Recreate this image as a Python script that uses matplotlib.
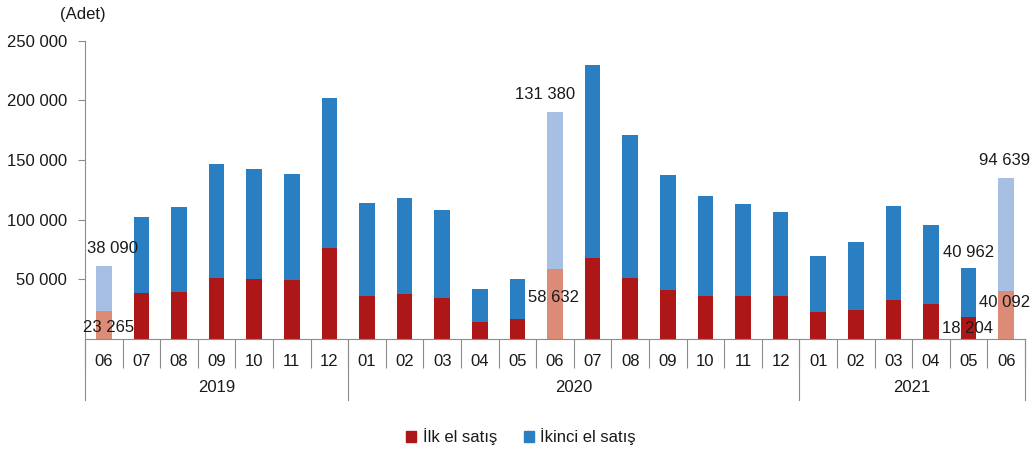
import matplotlib
matplotlib.use('Agg')
import matplotlib.pyplot as plt
from matplotlib.patches import Patch
import numpy as np

plt.rcParams['font.family'] = ['Liberation Sans', 'DejaVu Sans']

# aylar ve yıllar
months = ['06', '07', '08', '09', '10', '11', '12',
          '01', '02', '03', '04', '05', '06', '07', '08', '09', '10', '11', '12',
          '01', '02', '03', '04', '05', '06']
years = ['2019', '2020', '2021']
year_sizes = [7, 12, 6]

# satış adetleri
ilk_el = [23265, 38550, 39650, 51400, 50300, 49200, 76000,
          36300, 37400, 34100, 14250, 16500, 58632, 67600, 51400, 41100, 36300, 36300, 36300,
          22400, 24600, 32900, 29300, 18204, 40092]
ikinci_el = [38090, 63650, 70750, 95000, 92400, 89100, 125700,
             77700, 81000, 74000, 27950, 33800, 131380, 162000, 119300, 96100, 83300, 76600, 69900,
             47400, 57000, 78600, 66000, 40962, 94639]

highlight = [0, 12, 24]
# etiketli çubuklar: (indeks, mavi etiket kaydırma, kırmızı etiket kaydırma) piksel
labelled = [(0, (9, 10), (5, -16)),
            (12, (-10, 10), (-2, -28)),
            (23, (0, 8), (-1, -11)),
            (24, (-2, 10), (-2, -11))]

red = '#AD1717'
blue = '#2A7FC3'
red_light = '#DB8B76'
blue_light = '#A6BFE3'
axis_gray = '#8C8C8C'
text_col = '#1A1A1A'

fig = plt.figure(figsize=(10.32, 4.68), dpi=100)
ax = fig.add_axes([85 / 1032, 129 / 468, 940 / 1032, 298.3 / 468])

x = np.arange(len(months))
red_cols = [red_light if i in highlight else red for i in x]
blue_cols = [blue_light if i in highlight else blue for i in x]
ax.bar(x, ilk_el, width=0.41, color=red_cols, zorder=2)
ax.bar(x, ikinci_el, width=0.41, bottom=ilk_el, color=blue_cols, zorder=2)

def fmt(v):
    return f'{v:,}'.replace(',', ' ')

for i, (bdx, bdy), (rdx, rdy) in labelled:
    total = ilk_el[i] + ikinci_el[i]
    ax.annotate(fmt(ikinci_el[i]), xy=(i, total), xytext=(bdx, bdy),
                textcoords='offset pixels', ha='center', va='bottom',
                fontsize=12, color=text_col, zorder=3)
    ax.annotate(fmt(ilk_el[i]), xy=(i, ilk_el[i]), xytext=(rdx, rdy),
                textcoords='offset pixels', ha='center', va='center',
                fontsize=12, color=text_col, zorder=3)

ax.set_xlim(-0.5, len(months) - 0.5)
ax.set_ylim(0, 250000)
ax.set_yticks(range(50000, 250001, 50000))
ax.set_yticklabels([fmt(v) for v in range(50000, 250001, 50000)])

for s in ['top', 'right']:
    ax.spines[s].set_visible(False)
for s in ['left', 'bottom']:
    ax.spines[s].set_color(axis_gray)

ax.tick_params(axis='y', length=5, pad=8, color=axis_gray, labelsize=12, labelcolor=text_col)
ax.set_xticks(x)
ax.set_xticklabels(months)
ax.set_xticks(np.arange(-0.5, len(months), 1), minor=True)
ax.tick_params(axis='x', which='major', length=0, pad=11, labelsize=12, labelcolor=text_col)
ax.tick_params(axis='x', which='minor', length=21, width=0.8, color=axis_gray)

# yıl grupları
trans = ax.get_xaxis_transform()
start = -0.5
for yr, n in zip(years, year_sizes):
    ax.plot([start, start], [0, -0.205], color=axis_gray, lw=0.8, transform=trans, clip_on=False)
    ax.text(start + n / 2, -0.162, yr, transform=trans, ha='center', va='center',
            fontsize=12, color=text_col)
    start += n
ax.plot([start, start], [0, -0.205], color=axis_gray, lw=0.8, transform=trans, clip_on=False)

fig.text(60 / 1032, 1 - 15 / 468, '(Adet)', ha='left', va='center', fontsize=12, color=text_col)

handles = [Patch(color=red, label='İlk el satış'), Patch(color=blue, label='İkinci el satış')]
fig.legend(handles=handles, loc='center', bbox_to_anchor=(0.505, 31 / 468), ncol=2,
           frameon=False, fontsize=12, handlelength=0.6, handleheight=0.6,
           handletextpad=0.4, columnspacing=1.6, labelcolor=text_col)

fig.savefig('out.png', dpi=100)
